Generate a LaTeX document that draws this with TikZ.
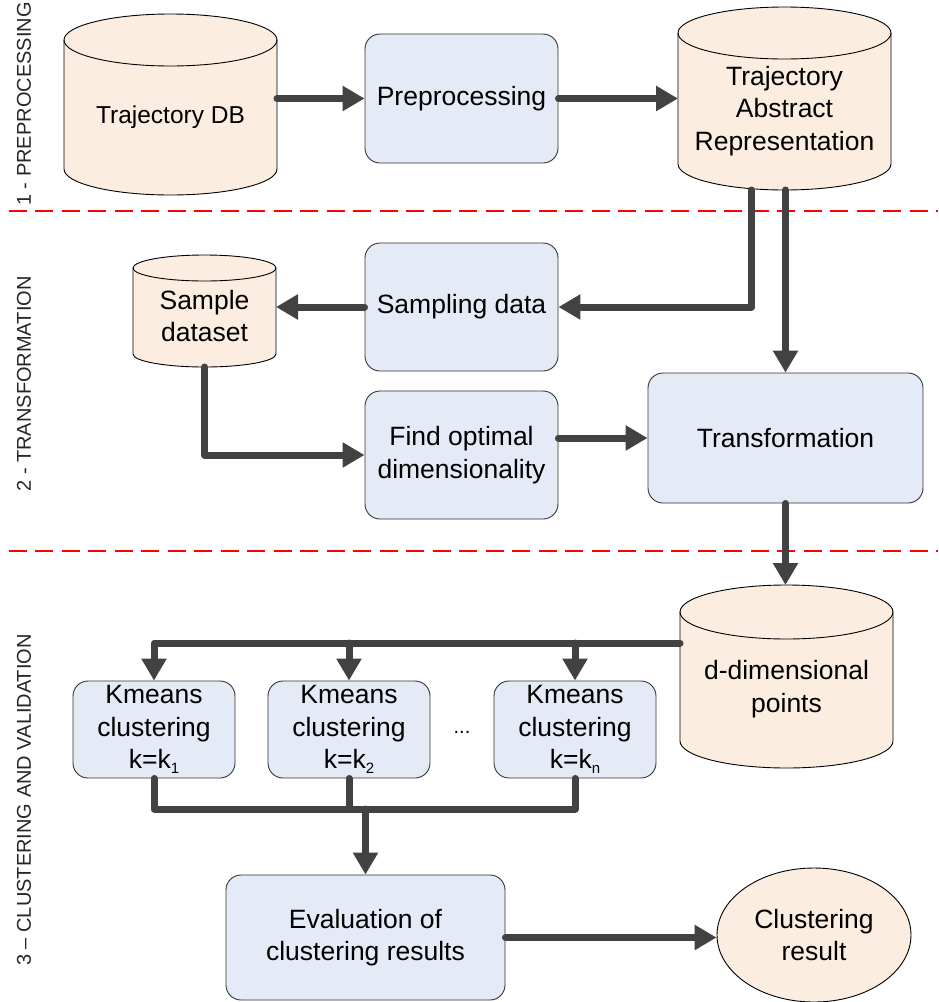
\documentclass[tikz,border=0pt]{standalone}
\usepackage{fontspec}
\setmainfont{Liberation Sans}
\usetikzlibrary{arrows.meta,calc,shapes.geometric}

\definecolor{peach}{HTML}{FCEDE1}
\definecolor{paleblue}{HTML}{E4EBF6}
\definecolor{flow}{HTML}{424242}
\definecolor{sep}{HTML}{FF0000}

% small lowered index used in the k-means boxes
\newcommand\ksub[1]{\raisebox{-5pt}{\fontsize{15}{15}\selectfont #1}}

% database drum drawn around the (invisible) area node #1, cap radius #2
\newcommand\drawdrum[2]{%
  \draw[drumline, fill=peach] let \p1=(#1.north west), \p2=(#1.south east),
      \n1={(\x2-\x1)/2} in
    (\x1,\y1-#2) -- (\x1,\y2+#2)
      arc[start angle=180, end angle=360, x radius=\n1, y radius=#2]
      -- (\x2,\y1-#2)
      arc[start angle=0, end angle=180, x radius=\n1, y radius=#2] -- cycle;
  \draw[drumline] let \p1=(#1.north west), \p2=(#1.south east),
      \n1={(\x2-\x1)/2} in
    (\x1,\y1-#2) arc[start angle=180, end angle=360, x radius=\n1, y radius=#2];
}

\tikzset{
  every node/.style={font=\fontsize{26.5}{32.5}\selectfont, align=center, inner sep=0pt},
  proc/.style={draw=black!80, line width=0.9pt, fill=paleblue, rounded corners=15pt},
  drumarea/.style={inner sep=0pt, outer sep=0pt},
  drumline/.style={draw=black, line width=0.9pt},
  result/.style={ellipse, draw=black, line width=0.9pt, fill=peach},
  flowline/.style={draw=flow, line width=7pt, line cap=round, line join=round},
  flowarrow/.style={flowline, -{Triangle[width=24pt,length=22pt]}},
  phase/.style={rotate=90, font=\fontsize{20}{24}\selectfont, text=black!85},
  divider/.style={draw=sep, line width=2.5pt, dash pattern=on 18pt off 8.5pt, dash phase=18pt},
}

\begin{document}
\begin{tikzpicture}[x=1pt, y=-1pt]
\useasboundingbox (0,0) rectangle (938,1002);

% phase separators
\coordinate (sepA0) at (0,211);   \coordinate (sepA1) at (938,211);
\coordinate (sepB0) at (0,551);   \coordinate (sepB1) at (938,551);
\draw[divider] (sepA0) -- (sepA1);
\draw[divider] (sepB0) -- (sepB1);

% phase titles
\node[phase] (ph1) at (24,104) {1 - PREPROCESSING};
\node[phase] (ph2) at (24,384) {2 - TRANSFORMATION};
\node[phase] (ph3) at (24,800) {3 – CLUSTERING AND VALIDATION};

% phase 1
\node[drumarea, minimum width=213pt, minimum height=181pt] (db) at (170.5,104.5) {};
\drawdrum{db}{26pt}
\node[font=\fontsize{24.5}{30}\selectfont] (dbtext) at (170.5,117) {Trajectory DB};

\node[proc, minimum width=193pt, minimum height=129pt] (pre) at (461.5,98.5) {Preprocessing};

\node[drumarea, minimum width=213pt, minimum height=183pt] (tar) at (784.5,98.5) {};
\drawdrum{tar}{26pt}
\node (tartext) at (784.5,111) {Trajectory\\Abstract\\Representation};

% phase 2
\node[proc, minimum width=193pt, minimum height=128pt] (samp) at (461.5,307) {Sampling data};

\node[drumarea, minimum width=143pt, minimum height=112pt] (sd) at (204.5,311) {};
\drawdrum{sd}{13pt}
\node (sdtext) at (204.5,316) {Sample\\dataset};

\node[proc, minimum width=193pt, minimum height=128pt] (find) at (461.5,455) {Find optimal\\dimensionality};

\node[proc, minimum width=275pt, minimum height=130pt] (trans) at (785.5,438) {Transformation};

% phase 3
\node[drumarea, minimum width=213pt, minimum height=183pt] (dd) at (786.5,676.5) {};
\drawdrum{dd}{27pt}
\node (ddtext) at (786.5,689) {d-dimensional\\points};

\node[proc, minimum width=162pt, minimum height=97pt] (k1) at (154,729.5) {Kmeans\\clustering\\k=k\ksub{1}};
\node[proc, minimum width=162pt, minimum height=97pt] (k2) at (349,729.5) {Kmeans\\clustering\\k=k\ksub{2}};
\node[proc, minimum width=162pt, minimum height=97pt] (k3) at (575,729.5) {Kmeans\\clustering\\k=k\ksub{n}};
\node[font=\fontsize{20}{24}\selectfont] (dots) at (462,732) {...};

\node[proc, minimum width=279pt, minimum height=125pt] (eval) at (365.5,937.5) {Evaluation of\\clustering results};
\node[result, minimum width=194pt, minimum height=134pt] (res) at (814,935) {Clustering\\result};

% connectors
\draw[flowarrow] (db.east |- pre.west) -- (pre.west);
\draw[flowarrow] (pre.east) -- (pre.east -| tar.west);
\draw[flowarrow] ([xshift=-33pt]tar.south) |- (samp.east);
\draw[flowarrow] (tar.south -| trans.north) -- (trans.north);
\draw[flowarrow] (samp.west) -- (samp.west -| sd.east);
\draw[flowarrow] (sd.south) |- (find.west);
\draw[flowarrow] (find.east |- trans.west) -- (trans.west);
\draw[flowarrow] (trans.south) -- (trans.south |- dd.north);

\coordinate (bus) at (154,643);
\draw[flowarrow] (dd.west |- bus) -- (bus) -- (k1.north);
\draw[flowarrow] (k2.north |- bus) -- (k2.north);
\draw[flowarrow] (k3.north |- bus) -- (k3.north);

\coordinate (merge) at (366,809);
\draw[flowline] (k1.south) -- (k1.south |- merge) -- (k3.south |- merge) -- (k3.south);
\draw[flowline] (k2.south) -- (k2.south |- merge);
\draw[flowarrow] (eval.north |- merge) -- (eval.north);
\draw[flowarrow] (eval.east) -- (eval.east -| res.west);
\end{tikzpicture}
\end{document}
